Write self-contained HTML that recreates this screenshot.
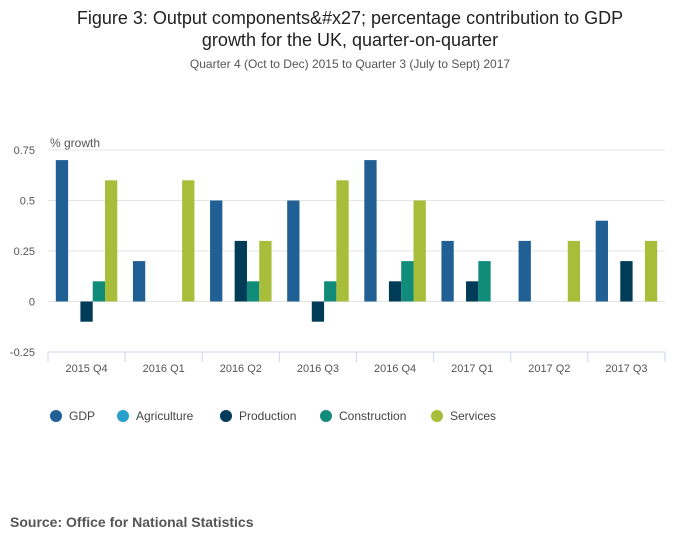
<!DOCTYPE html>
<html><head><meta charset="utf-8"><style>
body{margin:0;background:#fff;font-family:"Liberation Sans",sans-serif;}
svg text{font-family:"Liberation Sans",sans-serif;}
</style></head><body>
<svg id="chart" width="700" height="549" xmlns="http://www.w3.org/2000/svg">
<text x="350" y="24" text-anchor="middle" font-size="18" fill="#222">Figure 3: Output components&amp;#x27; percentage contribution to GDP</text>
<text x="350" y="46" text-anchor="middle" font-size="18" fill="#222">growth for the UK, quarter-on-quarter</text>
<text x="350" y="68" text-anchor="middle" font-size="12" fill="#555">Quarter 4 (Oct to Dec) 2015 to Quarter 3 (July to Sept) 2017</text>
<text x="50" y="147" font-size="12" fill="#555">% growth</text>
<g id="grid"></g><g id="bars"></g><g id="xaxis"></g>
<g id="legend"></g>
<text x="10" y="527" font-size="14" font-weight="bold" fill="#555">Source: Office for National Statistics</text>
</svg>
<script>
const categories=["2015 Q4","2016 Q1","2016 Q2","2016 Q3","2016 Q4","2017 Q1","2017 Q2","2017 Q3"];
const seriesNames=["GDP","Agriculture","Production","Construction","Services"];
const gdp=[0.7,0.2,0.5,0.5,0.7,0.3,0.3,0.4];
const agriculture=[0,0,0,0,0,0,0,0];
const production=[-0.1,0,0.3,-0.1,0.1,0.1,0,0.2];
const construction=[0.1,0,0.1,0.1,0.2,0.2,0,0];
const services=[0.6,0.6,0.3,0.6,0.5,0,0.3,0.3];
const yTicks=[-0.25,0,0.25,0.5,0.75];
const yTickLabels=["-0.25","0","0.25","0.5","0.75"];
const series=[gdp,agriculture,production,construction,services];
const colors=["#206095","#27a0cc","#003c57","#118c7b","#a8bd3a"];
const NS="http://www.w3.org/2000/svg";
const L=48,R=665,T=150,B=352,ymin=-0.25,ymax=0.75;
const y=v=>B-(v-ymin)/(ymax-ymin)*(B-T);
const bw=(R-L)/categories.length;
const x=i=>L+i*bw;
function mk(tag,a,p){const e=document.createElementNS(NS,tag);for(const k in a)e.setAttribute(k,a[k]);p.appendChild(e);return e;}
const grid=document.getElementById('grid');
yTicks.forEach((t,i)=>{
 const l=mk('line',{x1:L,x2:R,y1:y(t),y2:y(t),stroke:'#e4e4e4','stroke-width':1},grid);
 
 
 const tx=mk('text',{x:35,y:y(t)+4,'text-anchor':'end','font-size':11,fill:'#555'},grid);
 tx.textContent=yTickLabels[i];
 
 
});
const bars=document.getElementById('bars');
const w=12.3,pad=(bw-5*w)/2;
categories.forEach((c,i)=>{
 series.forEach((s,j)=>{
  const v=s[i];if(v===0)return;
  const r=mk('rect',{x:x(i)+pad+j*w,y:Math.min(y(v),y(0)),width:w,height:Math.abs(y(v)-y(0)),fill:colors[j]},bars);
  
  
 });
});
const xa=document.getElementById('xaxis');
mk('line',{x1:L,x2:R,y1:B,y2:B,stroke:'#ccd6e8'},xa);
categories.forEach((c,i)=>{
 mk('line',{x1:x(i),x2:x(i),y1:B,y2:B+10,stroke:'#ccd6e8'},xa);
 const t=mk('text',{x:x(i)+bw/2,y:B+20,'text-anchor':'middle','font-size':11,fill:'#555'},xa);
 t.textContent=c;
 
 
});
mk('line',{x1:R,x2:R,y1:B,y2:B+10,stroke:'#ccd6e8'},xa);
const lg=document.getElementById('legend');
const lx=[56,123,226,326,437];
seriesNames.forEach((n,j)=>{
 const g=mk('g',{},lg);
 
 
 mk('circle',{cx:lx[j],cy:416,r:6,fill:colors[j]},g);
 const t=mk('text',{x:lx[j]+13,y:420,'font-size':12,fill:'#444'},g);
 t.textContent=n;
});
</script>
</body></html>
